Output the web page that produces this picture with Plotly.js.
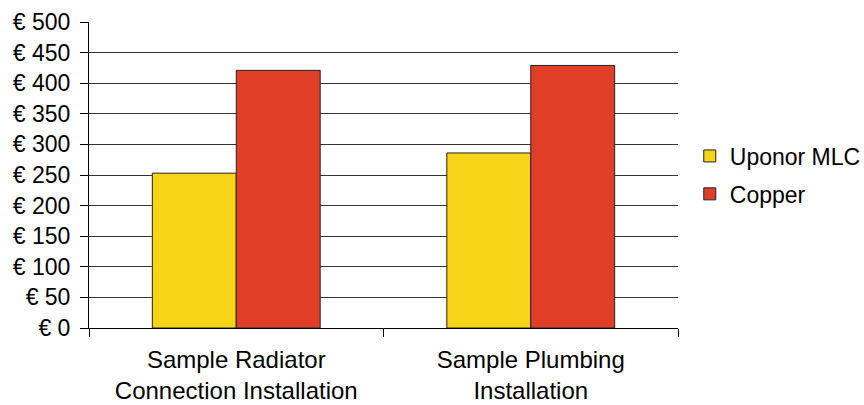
<!DOCTYPE html>
<html>
<head>
<meta charset="utf-8">
<script src="https://cdn.plot.ly/plotly-3.0.1.min.js"></script>
<style>html,body{margin:0;padding:0;background:#fff;}#chart{width:864px;height:405px;}</style>
</head>
<body>
<div id="chart"></div>
<script>
const categories = ["Sample Radiator<br>Connection Installation", "Sample Plumbing<br>Installation"];
const uponorMLC = [253, 286];
const copper = [421, 429];
const tickValues = [0, 50, 100, 150, 200, 250, 300, 350, 400, 450, 500];
const tickLabels = tickValues.map(v => "€ " + v);

const fam = "Liberation Sans, Arial, sans-serif";
const font = {family: fam, size: 23, color: "#000"};

const data = [
  {type: "bar", name: "Uponor MLC", x: categories, y: uponorMLC, legendgroup: "a",
   marker: {color: "#F7D417", line: {color: "#222", width: 1}}},
  {type: "bar", name: "Copper", x: categories, y: copper, legendgroup: "b",
   marker: {color: "#E13E28", line: {color: "#222", width: 1}}}
];

const layout = {
  width: 864, height: 405,
  margin: {l: 89, r: 186, t: 22, b: 77, autoexpand: false},
  paper_bgcolor: "#fff", plot_bgcolor: "#fff",
  font: font,
  barmode: "group", bargap: 0.43, bargroupgap: 0,
  showlegend: true,
  legend: {x: 1.02, xanchor: "left", y: 0.5, yanchor: "middle", font: font,
           bgcolor: "rgba(0,0,0,0)", tracegroupgap: 5},
  xaxis: {type: "category", showline: true, linecolor: "#000", linewidth: 1,
          ticks: "outside", tickson: "boundaries", ticklen: 8, tickcolor: "#000",
          showgrid: false, tickfont: {family: fam, size: 24, color: "#000"},
          ticklabelstandoff: 10, zeroline: false, automargin: false},
  yaxis: {range: [0, 500], tickvals: tickValues, ticktext: tickLabels,
          showline: true, linecolor: "#000", linewidth: 1,
          ticks: "outside", ticklen: 8, tickcolor: "#000",
          showgrid: true, gridcolor: "#333", gridwidth: 1, zeroline: false,
          tickfont: font, ticklabelstandoff: 5, automargin: false}
};

Plotly.newPlot("chart", data, layout, {displayModeBar: false, staticPlot: true});
</script>
</body>
</html>
